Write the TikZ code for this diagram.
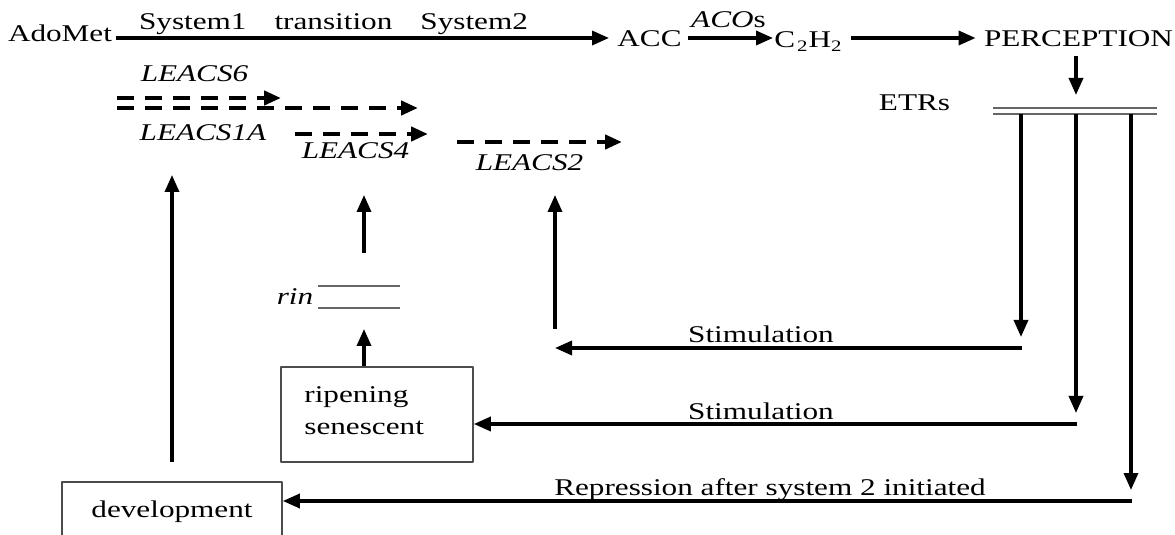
\documentclass[tikz,border=0pt]{standalone}
\usepackage{fontspec}
\setmainfont{Liberation Serif}[FakeStretch=1.3]
\usetikzlibrary{arrows.meta}

\begin{document}
\fontsize{12}{16}\selectfont
\begin{tikzpicture}[x=0.5pt,y=-0.5pt,>={Triangle[length=8.5pt,width=7pt]},line join=round,
  lbl/.style={anchor=base,inner sep=4pt},
  arr/.style={->,line width=1.7pt},
  darr/.style={->,line width=2.2pt,dash pattern=on 8.5pt off 5.5pt},
  thinline/.style={draw=black!60,line width=0.6pt},
  box/.style={draw=black!70,line width=0.8pt}]
  \useasboundingbox (0,0) rectangle (1175,535);
  % pathway along the top
  \coordinate (top) at (0,38);
  \node[lbl] (adomet) at (60,42) {AdoMet};
  \node[lbl] (sys) at (333.5,30) {System1\hspace{14pt}transition\hspace{14pt}System2};
  \node[lbl] (acc) at (649.5,47) {ACC};
  \node[lbl] (acos) at (728.5,28) {\textit{ACO}s};
  \node[lbl] (ethyl) at (808.5,48) {C\kern1pt\textsubscript{2}H\textsubscript{2}};
  \node[lbl] (percep) at (1078.5,47) {PERCEPTION};
  \draw[arr] ([xshift=-2pt]adomet.east|-top) -- (acc.west|-top);
  \draw[arr,shorten >=-3.5pt] ([xshift=-1pt]acc.east|-top) -- (ethyl.west|-top);
  \draw[arr] (ethyl.east|-top) -- (percep.west|-top);
  % receptors
  \node[lbl] (etrs) at (914.5,111) {ETRs};
  \coordinate (etrtop) at (1076,95);
  \coordinate (etrL) at (993,108);
  \coordinate (etrR) at (1157,108);
  \draw[arr] (percep.south-|etrtop) -- (etrtop);
  \draw[thinline] (etrL) -- (etrR) ([yshift=-3pt]etrL) -- ([yshift=-3pt]etrR);
  \coordinate (tapA) at (1021,114);
  \coordinate (tapB) at (1076,114);
  \coordinate (tapC) at (1131,114);
  \draw[arr] (tapA) -- ++(0,223);
  \draw[arr] (tapB) -- ++(0,299);
  \draw[arr] (tapC) -- ++(0,376);
  % ACS genes
  \node[lbl] (lsix) at (194.5,82) {\textit{LEACS6}};
  \node[lbl] (lonea) at (203,141) {\textit{LEACS1A}};
  \node[lbl] (lfour) at (355.5,159) {\textit{LEACS4}};
  \node[lbl] (ltwo) at (529.5,171) {\textit{LEACS2}};
  \coordinate (dsix) at (117,98);
  \coordinate (done) at (117,108);
  \coordinate (dfour) at (295,134);
  \coordinate (dtwo) at (457,142);
  \draw[darr] (dsix) -- ++(164,0);
  \draw[darr] (done) -- ++(301,0);
  \draw[darr] (dfour) -- ++(133,0);
  \draw[darr] (dtwo) -- ++(165,0);
  % boxes
  \node[box,minimum width=110pt,minimum height=30pt] (devel) at (172,512) {development};
  \node[box,minimum width=96pt,minimum height=47.5pt] (ripe) at (377,414.5) {};
  \node[anchor=north west,align=left,inner sep=0pt] (ripetxt) at (304,386) {ripening\\senescent};
  % rin
  \node[lbl] (rin) at (295,305) {\textit{rin}};
  \coordinate (rinL) at (318,286);
  \draw[thinline] (rinL) -- ++(82,0) ([yshift=-11pt]rinL) -- ++(82,0);
  \coordinate (rinin) at (364,329);
  \coordinate (rinout) at (364,253);
  \coordinate (infour) at (364,195);
  \draw[arr] (rinin|-ripe.north) -- (rinin);
  \draw[arr] (rinout) -- (infour);
  % up to the genes
  \coordinate (inone) at (172,175);
  \draw[arr] ([yshift=9.5pt]devel.north) -- (inone);
  \coordinate (outtwo) at (555,329);
  \coordinate (intwo) at (555,195);
  \draw[arr] (outtwo) -- (intwo);
  % feedback
  \coordinate (stA) at (1022,348);
  \coordinate (stB) at (1077,424);
  \coordinate (rp) at (1132,501);
  \draw[arr] (stA) -- (stA-|outtwo);
  \draw[arr] (stB) -- (stB-|ripe.east);
  \draw[arr] (rp) -- (rp-|devel.east);
  \node[lbl] (stima) at (761,343) {Stimulation};
  \node[lbl] (stimb) at (761,420) {Stimulation};
  \node[lbl] (repr) at (770,495) {Repression after system 2 initiated};
\end{tikzpicture}
\end{document}
